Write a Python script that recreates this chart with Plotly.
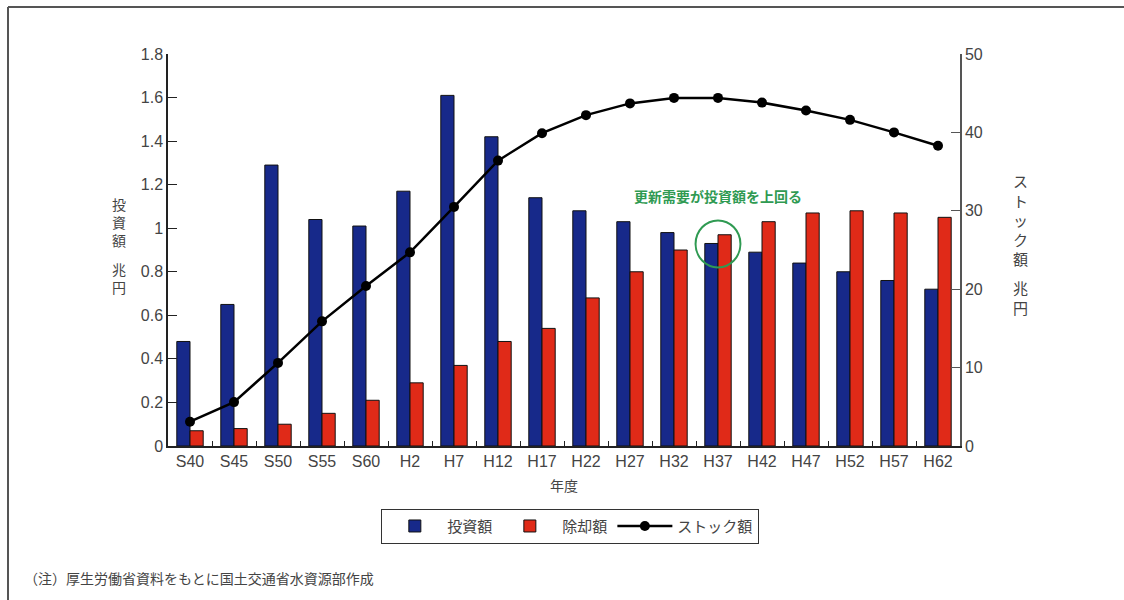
import plotly.graph_objects as go

categories = ["S40", "S45", "S50", "S55", "S60", "H2", "H7", "H12", "H17",
              "H22", "H27", "H32", "H37", "H42", "H47", "H52", "H57", "H62"]
investment = [0.48, 0.65, 1.29, 1.04, 1.01, 1.17, 1.61, 1.42, 1.14,
              1.08, 1.03, 0.98, 0.93, 0.89, 0.84, 0.80, 0.76, 0.72]
retirement = [0.07, 0.08, 0.10, 0.15, 0.21, 0.29, 0.37, 0.48, 0.54,
              0.68, 0.80, 0.90, 0.97, 1.03, 1.07, 1.08, 1.07, 1.05]
stock = [3.1, 5.6, 10.6, 15.9, 20.4, 24.7, 30.5, 36.4, 39.9,
         42.2, 43.7, 44.4, 44.4, 43.8, 42.8, 41.6, 40.0, 38.3]
left_ticks = [0, 0.2, 0.4, 0.6, 0.8, 1, 1.2, 1.4, 1.6, 1.8]
left_ticktext = ["0", "0.2", "0.4", "0.6", "0.8", "1", "1.2", "1.4", "1.6", "1.8"]
right_ticks = [0, 10, 20, 30, 40, 50]

FONT = "Liberation Sans, Noto Sans CJK JP, sans-serif"
CJK = "Noto Sans CJK JP, sans-serif"
GREEN = "#2f9a52"

fig = go.Figure()
fig.add_trace(go.Bar(x=categories, y=investment, name="投資額",
                     marker=dict(color="#17298a", line=dict(color="#111", width=1))))
fig.add_trace(go.Bar(x=categories, y=retirement, name="除却額",
                     marker=dict(color="#e02a18", line=dict(color="#111", width=1))))
fig.add_trace(go.Scatter(x=categories, y=stock, name="ストック額", yaxis="y2",
                         mode="lines+markers",
                         line=dict(color="black", width=2.5),
                         marker=dict(color="black", size=10)))

fig.update_layout(
    width=1124, height=600,
    margin=dict(l=168, r=164, t=54, b=154),
    paper_bgcolor="white", plot_bgcolor="white",
    font=dict(family=FONT, size=16, color="#444"),
    barmode="group", bargap=0.4, bargroupgap=0,
    showlegend=True,
    legend=dict(orientation="h", x=0.508, xanchor="center", y=-0.16, yanchor="top",
                bordercolor="#333", borderwidth=1, font=dict(family=CJK, size=15, color="#444"),
                itemwidth=55, traceorder="normal"),
    xaxis=dict(type="category", range=[-0.5, len(categories) - 0.5],
               showline=True, linecolor="#222", linewidth=1.5,
               ticks="inside", tickson="boundaries", ticklen=5, tickcolor="#222",
               showgrid=False, zeroline=False, mirror=False,
               tickfont=dict(size=16, color="#444"),
               title=dict(text="年度", font=dict(family=CJK, size=14, color="#444"), standoff=12)),
    yaxis=dict(range=[0, 1.8], tickvals=left_ticks, ticktext=left_ticktext,
               showline=True, linecolor="#222", linewidth=1.5,
               ticks="inside", ticklen=9, tickcolor="#222",
               showgrid=False, zeroline=False, tickfont=dict(size=16, color="#444")),
    yaxis2=dict(range=[0, 50], tickvals=right_ticks, overlaying="y", side="right",
                showline=True, linecolor="#555", linewidth=1.5,
                ticks="inside", ticklen=9, tickcolor="#555",
                showgrid=False, zeroline=False, tickfont=dict(size=16, color="#444")),
)

# Annotation circle around H37
fig.add_shape(type="circle", xref="x", yref="y", x0=11.49, x1=12.51, y0=0.82, y1=1.036,
              line=dict(color=GREEN, width=2))
fig.add_annotation(x="H37", y=1.146, xref="x", yref="y", text="<b>更新需要が投資額を上回る</b>",
                   showarrow=False, font=dict(family=CJK, size=14, color=GREEN))

# vertical axis titles
fig.add_annotation(x=(110 - 168) / 792, y=(445 - 222) / 391, xref="paper", yref="paper",
                   text="投<br>資<br>額", showarrow=False,
                   font=dict(family=CJK, size=14, color="#444"))
fig.add_annotation(x=(110 - 168) / 792, y=(445 - 277) / 391, xref="paper", yref="paper",
                   text="兆<br>円", showarrow=False,
                   font=dict(family=CJK, size=14, color="#444"))
fig.add_annotation(x=(1030 - 168) / 792, y=(445 - 219) / 391, xref="paper", yref="paper",
                   text="ス<br>ト<br>ッ<br>ク<br>額", showarrow=False,
                   font=dict(family=CJK, size=15, color="#444"))
fig.add_annotation(x=(1030 - 168) / 792, y=(445 - 297) / 391, xref="paper", yref="paper",
                   text="兆<br>円", showarrow=False,
                   font=dict(family=CJK, size=15, color="#444"))

# footnote
fig.add_annotation(x=(22 - 168) / 792, y=(445 - 577) / 391, xref="paper", yref="paper",
                   xanchor="left", yanchor="middle",
                   text="（注）厚生労働省資料をもとに国土交通省水資源部作成", showarrow=False,
                   font=dict(family=CJK, size=14, color="#444"))

# page frame (top and left rules)
fig.add_shape(type="line", xref="paper", yref="paper",
              x0=(8 - 168) / 792, x1=(1124 - 168) / 792, y0=(445 - 7) / 391, y1=(445 - 7) / 391,
              line=dict(color="#555", width=2))
fig.add_shape(type="line", xref="paper", yref="paper",
              x0=(8 - 168) / 792, x1=(8 - 168) / 792, y0=(445 - 7) / 391, y1=(445 - 600) / 391,
              line=dict(color="#555", width=2))

fig.write_html("out.html", config={"displayModeBar": False},
               post_script="document.body.style.margin='0';document.body.style.overflow='hidden';")
